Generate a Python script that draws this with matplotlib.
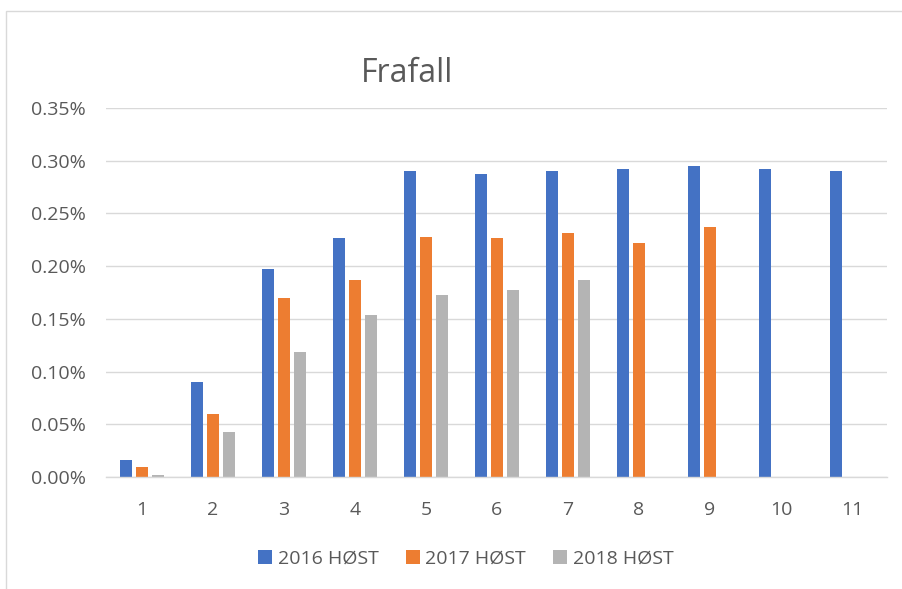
import matplotlib
matplotlib.use("Agg")
import matplotlib.pyplot as plt
import numpy as np
from matplotlib.ticker import FuncFormatter
from matplotlib.patches import Rectangle

categories = ["1", "2", "3", "4", "5", "6", "7", "8", "9", "10", "11"]
s2016 = [0.016, 0.090, 0.197, 0.227, 0.290, 0.287, 0.290, 0.292, 0.295, 0.292, 0.290]
s2017 = [0.0095, 0.060, 0.170, 0.187, 0.228, 0.227, 0.231, 0.222, 0.237, None, None]
s2018 = [0.002, 0.043, 0.119, 0.154, 0.173, 0.177, 0.187, None, None, None, None]
series_names = ["2016 HØST", "2017 HØST", "2018 HØST"]
colors = ["#4472C4", "#ED7D31", "#B4B4B4"]
yticks = [0.0, 0.05, 0.10, 0.15, 0.20, 0.25, 0.30, 0.35]

plt.rcParams['font.family'] = ['Open Sans', 'DejaVu Sans']
W, H = 903, 589
fig = plt.figure(figsize=(W / 100, H / 100), dpi=100)
ax = fig.add_axes([106.5 / W, 112 / H, 781 / W, 369 / H])

x = np.arange(len(categories))
step = 0.225
width = 0.176
for i, (vals, name, c) in enumerate(zip([s2016, s2017, s2018], series_names, colors)):
    xs = [xi + (i - 1) * step for xi, v in zip(x, vals) if v is not None]
    vs = [v for v in vals if v is not None]
    ax.bar(xs, vs, width=width, color=c, label=name, zorder=3)

ax.set_xlim(-0.5, len(categories) - 0.5)
ax.set_ylim(0, 0.35)
ax.set_yticks(yticks)
ax.yaxis.set_major_formatter(FuncFormatter(lambda v, p: f"{v:.2f}%"))
ax.set_xticks(x)
ax.set_xticklabels(categories)
ax.grid(axis='y', color='#D9D9D9', linewidth=1, zorder=0)
for s in ['top', 'right', 'left']:
    ax.spines[s].set_visible(False)
ax.spines['bottom'].set_color('#D9D9D9')
ax.spines['bottom'].set_linewidth(1)
ax.spines['bottom'].set_zorder(4)
ax.tick_params(axis='both', length=0, labelsize=14, colors='#595959')
ax.tick_params(axis='y', pad=15)
ax.tick_params(axis='x', pad=17)

fig.text(407 / W, 1 - 73 / H, "Frafall", ha='center', va='center', fontsize=23, color='#595959')

leg = fig.legend(loc='center', bbox_to_anchor=(466 / W, 1 - 559 / H), ncol=3, frameon=False,
                 fontsize=14, handlelength=0.7, handleheight=0.7, columnspacing=1.4, handletextpad=0.3)
for t in leg.get_texts():
    t.set_color('#595959')

fig.patches.append(Rectangle((6 / W, -0.1), 1.2, (589 - 11) / H + 0.1, transform=fig.transFigure,
                             fill=False, edgecolor='#D9D9D9', linewidth=1))

fig.savefig("out.png", dpi=100)
